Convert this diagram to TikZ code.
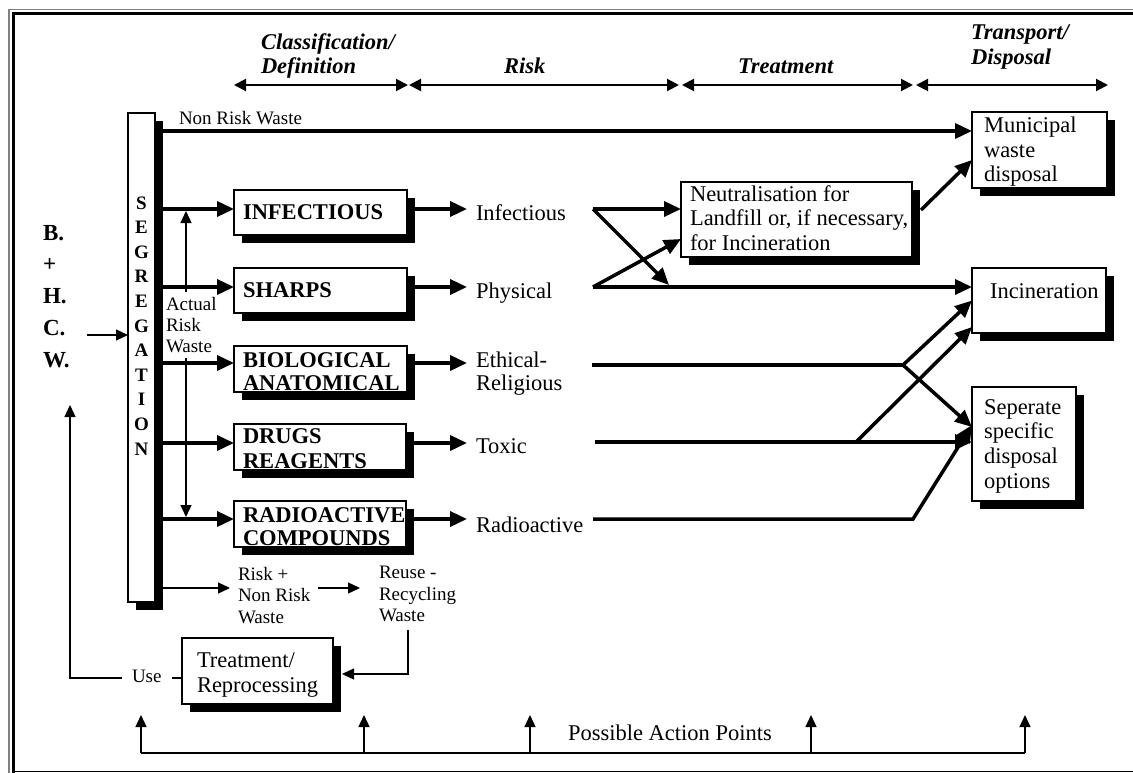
\documentclass[tikz,border=0pt]{standalone}
\usepackage{fontspec}
\setmainfont{Liberation Serif}
\usetikzlibrary{arrows.meta,shadows}
\begin{document}
\begin{tikzpicture}[x=1pt, y=-1pt,
  every node/.style={inner sep=0pt, outer sep=0pt},
  txt/.style={anchor=base west, align=left},
  sm/.style={font=\fontsize{19}{#1}\selectfont},
  sm/.default=21.5,
  lg/.style={font=\fontsize{22.5}{#1}\selectfont},
  lg/.default=24.5,
  bl/.style={font=\bfseries\fontsize{22.5}{#1}\selectfont},
  bl/.default=23.5,
  hd/.style={font=\bfseries\itshape\fontsize{22.5}{#1}\selectfont},
  hd/.default=24,
  bx/.style={anchor=north west, draw, line width=2pt, fill=white,
    drop shadow={shadow xshift=8pt, shadow yshift=-8pt, fill=black, opacity=1}},
  fat/.style={line width=3.5pt, -{Triangle[length=17pt, width=15pt]}},
  fatline/.style={line width=3.5pt},
  thinarr/.style={line width=1.3pt, -{Triangle[length=12pt, width=11pt]}},
  thinline/.style={line width=1.3pt},
  hdr/.style={line width=2pt, {Triangle[length=12pt,width=12pt]}-{Triangle[length=12pt,width=12pt]}},
]
\useasboundingbox (0,0) rectangle (1133,773);
\fill[white] (0,0) rectangle (1133,773);

% frame
\draw[gray, line width=1.5pt] (9,773) -- (9,9.5) -- (1133,9.5);
\draw[line width=3pt] (13.3,773) -- (13.3,13.8) -- (1133,13.8);
\draw[line width=1.2pt] (13,771.5) -- (1133,771.5);

% header arrows
\coordinate (h0) at (234,85); \coordinate (h1) at (408,85);
\coordinate (h2) at (409,85); \coordinate (h3) at (679,85);
\coordinate (h4) at (682,85); \coordinate (h5) at (913,85);
\coordinate (h6) at (916,85); \coordinate (h7) at (1108,85);
\draw[hdr] (h0) -- (h1);
\draw[hdr] (h2) -- (h3);
\draw[hdr] (h4) -- (h5);
\draw[hdr] (h6) -- (h7);
\node[txt, hd=23.5] (cls) at (261,73.5) {Classification/\\Definition};
\node[txt, hd] (rsk) at (504,73.3) {Risk};
\node[txt, hd] (trt) at (738,74) {Treatment};
\node[txt, hd=25] (tds) at (971,65) {Transport/\\Disposal};

% B.+H.C.W.
\node[txt, font=\bfseries\fontsize{23}{31.75}\selectfont] (bhcw) at (43,367) {B.\\+\\H.\\C.\\W.};

% segregation
\node[bx, line width=1.5pt, minimum width=27, minimum height=489] (seg) at (128,113) {};
\node[anchor=base, align=center, font=\bfseries\fontsize{19}{24.6}\selectfont] (segtxt) at (141.5,455) {S\\E\\G\\R\\E\\G\\A\\T\\I\\O\\N};
\coordinate (bo) at (87,335);
\draw[thinarr] (bo) -- (seg.west |- bo);

% classification boxes
\node[bx, minimum width=173, minimum height=45] (inf) at (234,190) {};
\node[bx, minimum width=173, minimum height=45] (sharps) at (234,268) {};
\node[bx, minimum width=173, minimum height=46] (bio) at (234,346) {};
\node[bx, minimum width=172, minimum height=46] (drugs) at (234,424) {};
\node[bx, minimum width=172, minimum height=46] (radio) at (234,501) {};
\node[txt, bl] (infl) at (243,219) {INFECTIOUS};
\node[txt, bl] (shl) at (243,297) {SHARPS};
\node[txt, bl=23] (biol) at (243,390) {BIOLOGICAL\\ANATOMICAL};
\node[txt, bl=25] (drl) at (243,468) {DRUGS\\REAGENTS};
\node[txt, bl=23] (ral) at (243,545) {RADIOACTIVE\\COMPOUNDS};

% rows
\coordinate (r1) at (0,209); \coordinate (r2) at (0,287);
\coordinate (r3) at (0,363); \coordinate (r4) at (0,443);
\coordinate (r5) at (0,519);
\coordinate (nr) at (0,131);

% non risk waste
\node[txt, sm] (nrl) at (179,125) {Non Risk Waste};
\node[bx, minimum width=135, minimum height=76] (muni) at (972,112) {};
\node[txt, lg] (munil) at (984,182) {Municipal\\waste\\disposal};
\draw[fat] (seg.east |- nr) -- (muni.west |- nr);

% seg -> boxes
\draw[fat] (seg.east |- r1) -- (inf.west |- r1);
\draw[fat] (seg.east |- r2) -- (sharps.west |- r2);
\draw[fat] (seg.east |- r3) -- (bio.west |- r3);
\draw[fat] (seg.east |- r4) -- (drugs.west |- r4);
\draw[fat] (seg.east |- r5) -- (radio.west |- r5);

% actual risk waste
\node[txt, sm=20.7, inner ysep=5.5pt] (arw) at (166,352) {Actual\\Risk\\Waste};
\coordinate (artop) at (186,211);
\coordinate (arbot) at (186,517);
\draw[thinarr] (arw.north -| artop) -- (artop);
\draw[thinarr] (arw.south -| arbot) -- (arbot);

% risk labels
\node[txt, lg, inner xsep=9pt] (rinf) at (467,220) {Infectious};
\node[txt, lg, inner xsep=9pt] (rphy) at (467,298) {Physical};
\node[txt, lg=23, inner xsep=9pt] (reth) at (467,390) {Ethical-\\Religious};
\node[txt, lg, inner xsep=9pt] (rtox) at (467,453) {Toxic};
\node[txt, lg, inner xsep=9pt] (rrad) at (467,532) {Radioactive};
\draw[fat] (inf.east |- r1) -- (rinf.west |- r1);
\draw[fat] (sharps.east |- r2) -- (rphy.west |- r2);
\draw[fat] (bio.east |- r3) -- (reth.west |- r3);
\draw[fat] (drugs.east |- r4) -- (rtox.west |- r4);
\draw[fat] (radio.east |- r5) -- (rrad.west |- r5);

% treatment / disposal boxes
\node[bx, minimum width=231, minimum height=75] (neut) at (681,182) {};
\node[txt, lg] (neutl) at (690,250) {Neutralisation for\\Landfill or, if necessary,\\for Incineration};
\node[bx, minimum width=134, minimum height=65] (incin) at (972,268) {};
\node[txt, lg] (incl) at (990,298) {Incineration};
\node[bx, minimum width=104, minimum height=114] (sep) at (972,387) {};
\node[txt, lg=24.8] (sepl) at (984,488.4) {Seperate\\specific\\disposal\\options};

\coordinate (j1) at (593,209);
\coordinate (j2) at (593,287);
\coordinate (j3) at (592,365);
\coordinate (j4) at (595,442);
\coordinate (j5) at (593,519);
\coordinate (m1) at (669,285);
\coordinate (e) at (903,365);
\coordinate (t) at (856,442);
\coordinate (rr) at (913,519);

\draw[fat] (j1) -- (neut.west |- j1);
\draw[fat] (j1) -- (m1);
\draw[fat] (j2) -- (incin.west |- j2);
\draw[fat] (j2) -- ([yshift=-19.5pt]neut.west);
\draw[fat] ([xshift=9pt,yshift=9.5pt]neut.east) -- ([yshift=-10pt]muni.west);
\draw[fatline] (j3) -- (e);
\draw[fat] (e) -- (incin.west);
\draw[fat] (e) -- ([yshift=17pt]sep.west);
\draw[fat] (j4) -- (sep.west |- j4);
\draw[fat] (t) -- ([yshift=-26.5pt]incin.west);
\draw[fat, line join=miter] (j5) -- (rr) -- ([yshift=19pt]sep.west);

% risk + non risk waste / reuse
\coordinate (ya) at (0,588);
\node[txt, sm, inner xsep=8pt] (riskp) at (230,623) {Risk +\\Non Risk\\Waste};
\node[txt, sm, inner xsep=19pt] (reuse) at (360,621.7) {Reuse -\\Recycling\\Waste};
\draw[thinarr] (seg.east |- ya) -- (riskp.west |- ya);
\draw[thinarr] (riskp.east |- ya) -- (reuse.west |- ya);

\node[bx, minimum width=151, minimum height=66] (treat) at (182,638) {};
\node[txt, lg=25] (treatl) at (197,692) {Treatment/\\Reprocessing};
\coordinate (rd) at (408,630);
\draw[thinarr] (rd) |- ([xshift=9pt,yshift=-3pt]treat.east);

% use feedback
\coordinate (uy) at (0,678);
\coordinate (fb) at (70,405);
\node[txt, sm, inner xsep=10pt] (use) at (122,682) {Use};
\draw[thinline] (treat.west |- uy) -- (use.east |- uy);
\draw[thinarr] (use.west |- uy) -- (fb |- uy) -- (fb);

% possible action points
\coordinate (pb) at (0,753);
\coordinate (p1) at (141,715);
\coordinate (p2) at (364,715);
\coordinate (p3) at (530,715);
\coordinate (p4) at (811,715);
\coordinate (p5) at (1025,715);
\draw[thinline] (p1 |- pb) -- (p5 |- pb);
\foreach \p in {p1,p2,p3,p4,p5} \draw[thinarr] (\p |- pb) -- (\p);
\node[txt, lg] (pap) at (568,740) {Possible Action Points};
\end{tikzpicture}
\end{document}
